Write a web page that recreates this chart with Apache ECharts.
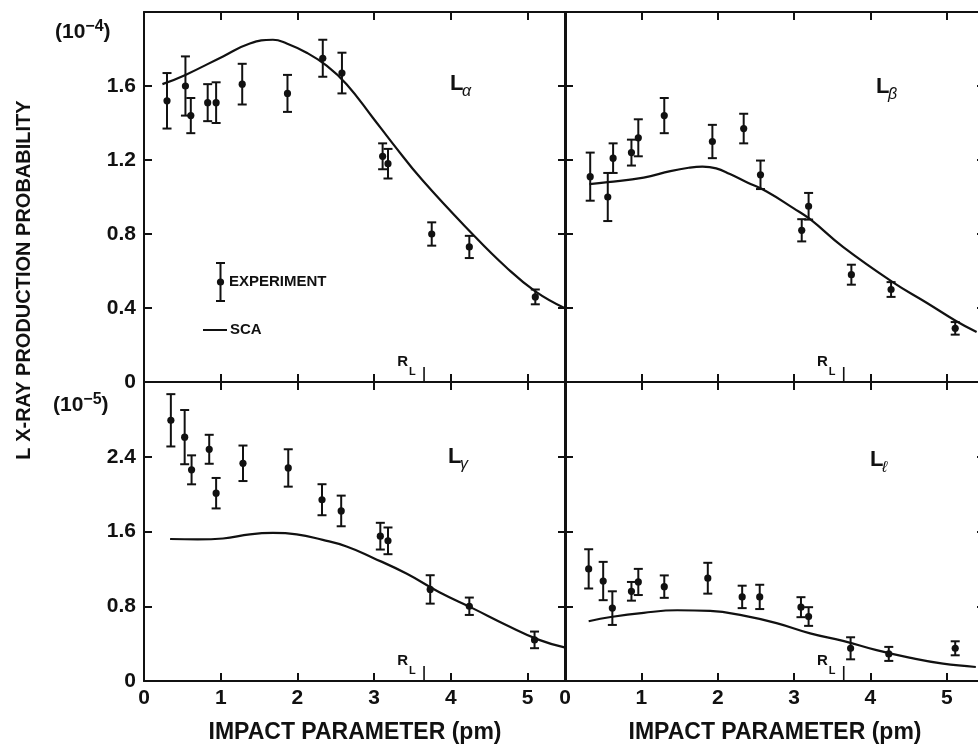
<!DOCTYPE html>
<html><head><meta charset="utf-8">
<script src="https://cdn.jsdelivr.net/npm/echarts@6/dist/echarts.min.js"></script>
<style>html,body{margin:0;padding:0;background:#fff}#c{width:978px;height:747px}</style>
</head><body><div id="c"></div>
<script>
// ---------- data (impact parameter in pm; probabilities in 1e-4 (top) / 1e-5 (bottom)) ----------
const rL = 3.65;

const impactLa = [0.30, 0.54, 0.61, 0.83, 0.94, 1.28, 1.87, 2.33, 2.58, 3.11, 3.18, 3.75, 4.24, 5.10];
const probLa   = [1.52, 1.60, 1.44, 1.51, 1.51, 1.61, 1.56, 1.75, 1.67, 1.22, 1.18, 0.80, 0.73, 0.46];
const errLa    = [0.15, 0.16, 0.095, 0.10, 0.11, 0.11, 0.10, 0.10, 0.11, 0.07, 0.08, 0.063, 0.06, 0.04];
const scaXLa   = [0.24, 0.54, 1.03, 1.38, 1.68, 1.86, 2.12, 2.38, 2.64, 2.98, 3.24, 3.63, 4.28, 4.72, 5.10, 5.48];
const scaLa    = [1.61, 1.66, 1.76, 1.83, 1.85, 1.83, 1.78, 1.71, 1.61, 1.43, 1.29, 1.09, 0.80, 0.62, 0.49, 0.40];

const impactLb = [0.33, 0.56, 0.63, 0.87, 0.96, 1.30, 1.93, 2.34, 2.56, 3.10, 3.19, 3.75, 4.27, 5.11];
const probLb   = [1.11, 1.00, 1.21, 1.24, 1.32, 1.44, 1.30, 1.37, 1.12, 0.82, 0.95, 0.58, 0.50, 0.29];
const errLb    = [0.13, 0.13, 0.08, 0.07, 0.10, 0.095, 0.09, 0.08, 0.077, 0.06, 0.072, 0.054, 0.04, 0.034];
const scaXLb   = [0.32, 0.56, 1.03, 1.38, 1.62, 1.80, 1.98, 2.16, 2.38, 2.64, 2.99, 3.21, 3.64, 4.29, 4.73, 5.12, 5.39];
const scaLb    = [1.07, 1.08, 1.105, 1.14, 1.158, 1.164, 1.155, 1.124, 1.08, 1.03, 0.94, 0.88, 0.73, 0.54, 0.43, 0.33, 0.27];

const impactLg = [0.35, 0.53, 0.62, 0.85, 0.94, 1.29, 1.88, 2.32, 2.57, 3.08, 3.18, 3.73, 4.24, 5.09];
const probLg   = [2.79, 2.61, 2.26, 2.48, 2.01, 2.33, 2.28, 1.94, 1.82, 1.55, 1.50, 0.98, 0.80, 0.44];
const errLg    = [0.28, 0.29, 0.155, 0.155, 0.163, 0.19, 0.20, 0.166, 0.164, 0.143, 0.143, 0.152, 0.093, 0.089];
const scaXLg   = [0.34, 0.70, 1.03, 1.38, 1.68, 1.99, 2.33, 2.64, 2.98, 3.42, 3.85, 4.28, 4.72, 5.15, 5.48];
const scaLg    = [1.52, 1.515, 1.525, 1.57, 1.585, 1.57, 1.51, 1.44, 1.32, 1.15, 0.95, 0.78, 0.60, 0.44, 0.36];

const impactLl = [0.31, 0.50, 0.62, 0.87, 0.96, 1.30, 1.87, 2.32, 2.55, 3.09, 3.19, 3.74, 4.24, 5.11];
const probLl   = [1.20, 1.07, 0.78, 0.96, 1.06, 1.01, 1.10, 0.90, 0.90, 0.79, 0.69, 0.35, 0.29, 0.35];
const errLl    = [0.21, 0.205, 0.18, 0.10, 0.14, 0.12, 0.165, 0.12, 0.13, 0.107, 0.10, 0.118, 0.075, 0.075];
const scaXLl   = [0.31, 0.60, 1.03, 1.47, 1.90, 2.34, 2.77, 3.21, 3.64, 4.08, 4.51, 4.95, 5.38];
const scaLl    = [0.64, 0.685, 0.73, 0.757, 0.75, 0.70, 0.62, 0.51, 0.43, 0.33, 0.25, 0.185, 0.15];

const xTicks = [0, 1, 2, 3, 4, 5];
const yTicksTop = [0, 0.4, 0.8, 1.2, 1.6];
const yTicksBottom = [0, 0.8, 1.6, 2.4];
const xTitle = 'IMPACT PARAMETER (pm)';
const yTitle = 'L X-RAY PRODUCTION PROBABILITY';

// ---------- build ----------
const FONT = '"Liberation Sans", Arial, Helvetica, sans-serif';
const INK = '#111';

const panels = [
  {impact: impactLa, prob: probLa, err: errLa, scaX: scaXLa, sca: scaLa, yMax: 2.0, yInt: 0.4, yTicks: yTicksTop, leftLabels: true, bottomLabels: false},
  {impact: impactLb, prob: probLb, err: errLb, scaX: scaXLb, sca: scaLb, yMax: 2.0, yInt: 0.4, yTicks: yTicksTop, leftLabels: false, bottomLabels: false},
  {impact: impactLg, prob: probLg, err: errLg, scaX: scaXLg, sca: scaLg, yMax: 3.2, yInt: 0.8, yTicks: yTicksBottom, leftLabels: true, bottomLabels: true},
  {impact: impactLl, prob: probLl, err: errLl, scaX: scaXLl, sca: scaLl, yMax: 3.2, yInt: 0.8, yTicks: yTicksBottom, leftLabels: false, bottomLabels: true}
];
const grids = [
  {left: 144, top: 12, width: 422, height: 370},
  {left: 565, top: 12, width: 420, height: 370},
  {left: 144, top: 382, width: 422, height: 299},
  {left: 565, top: 382, width: 420, height: 299}
].map(g => Object.assign({outerBoundsMode: 'none', containLabel: false}, g));

const lineSt = {color: INK, width: 2};
const tickSt = {show: true, inside: true, length: 8, lineStyle: {color: INK, width: 2}};
const labelFont = {fontFamily: FONT, fontWeight: 'bold', fontSize: 21, color: INK};

const xAxes = [], yAxes = [], series = [];
panels.forEach((p, i) => {
  ['bottom', 'top'].forEach(pos => {
    xAxes.push({
      type: 'value', gridIndex: i, position: pos, min: 0, max: 5.5, interval: 1,
      axisLine: {show: true, onZero: false, lineStyle: lineSt},
      axisTick: tickSt, splitLine: {show: false},
      axisLabel: Object.assign({show: pos === 'bottom' && p.bottomLabels, margin: 7,
        formatter: v => xTicks.includes(v) ? String(v) : ''}, labelFont),
      name: (pos === 'bottom' && p.bottomLabels) ? xTitle : '',
      nameLocation: 'middle', nameGap: 40,
      nameTextStyle: {fontFamily: FONT, fontWeight: 'bold', fontSize: 23, color: INK}
    });
  });
  ['left', 'right'].forEach(pos => {
    yAxes.push({
      type: 'value', gridIndex: i, position: pos, min: 0, max: p.yMax, interval: p.yInt,
      axisLine: {show: true, onZero: false, lineStyle: lineSt},
      axisTick: tickSt, splitLine: {show: false},
      axisLabel: Object.assign({show: pos === 'left' && p.leftLabels, margin: 8,
        formatter: v => {
          const t = p.yTicks.find(k => Math.abs(k - v) < 1e-6);
          if (t === undefined) return '';
          return t === 0 ? '0' : t.toFixed(1);
        }}, labelFont)
    });
  });
  series.push({
    type: 'line', xAxisIndex: 2 * i, yAxisIndex: 2 * i, smooth: 0.45,
    showSymbol: false, symbol: 'none', silent: true,
    lineStyle: {color: INK, width: 2.2},
    data: p.scaX.map((x, k) => [x, p.sca[k]]), z: 3
  });
  series.push({
    type: 'custom', xAxisIndex: 2 * i, yAxisIndex: 2 * i, silent: true, z: 4,
    dimensions: ['x', 'y', 'e'], encode: {x: 0, y: 1},
    data: p.impact.map((x, k) => [x, p.prob[k], p.err[k]]),
    renderItem: (params, api) => {
      const x = api.value(0), y = api.value(1), e = api.value(2);
      const c = api.coord([x, y]), t = api.coord([x, y + e]), b = api.coord([x, y - e]);
      const w = 4.5, st = {stroke: INK, lineWidth: 2};
      return {type: 'group', children: [
        {type: 'line', shape: {x1: c[0], y1: t[1], x2: c[0], y2: b[1]}, style: st},
        {type: 'line', shape: {x1: c[0] - w, y1: t[1], x2: c[0] + w, y2: t[1]}, style: st},
        {type: 'line', shape: {x1: c[0] - w, y1: b[1], x2: c[0] + w, y2: b[1]}, style: st},
        {type: 'circle', shape: {cx: c[0], cy: c[1], r: 3.6}, style: {fill: INK}}
      ]};
    }
  });
  series.push({
    type: 'custom', xAxisIndex: 2 * i, yAxisIndex: 2 * i, silent: true, z: 4,
    dimensions: ['x'], encode: {x: 0},
    data: [[rL]],
    renderItem: (params, api) => {
      const c = api.coord([api.value(0), 0]);
      return {type: 'group', children: [
        {type: 'line', shape: {x1: c[0], y1: c[1], x2: c[0], y2: c[1] - 15}, style: {stroke: INK, lineWidth: 1.6}},
        {type: 'text', style: {text: 'R', x: c[0] - 16, y: c[1] - 20, fill: INK,
          font: 'bold 15px ' + FONT, align: 'right', verticalAlign: 'middle'}},
        {type: 'text', style: {text: 'L', x: c[0] - 15, y: c[1] - 10, fill: INK,
          font: 'bold 11px ' + FONT, align: 'left', verticalAlign: 'middle'}}
      ]};
    }
  });
});

function panelLabel(x, y, sub) {
  return [
    {type: 'text', x: x, y: y, style: {text: 'L', fill: INK, font: 'bold 22px ' + FONT, textAlign: 'left', textVerticalAlign: 'middle', align: 'left', verticalAlign: 'middle'}},
    {type: 'text', x: x + 12, y: y + 8, style: {text: sub, fill: INK, font: 'italic 16px ' + FONT, textAlign: 'left', textVerticalAlign: 'middle', align: 'left', verticalAlign: 'middle'}}
  ];
}
function expLabel(x, y, e) {
  return {type: 'text', x: x, y: y, style: {
    text: '{a|(10}{b|' + e + '}{a|)}', fill: INK, textAlign: 'left', textVerticalAlign: 'middle', align: 'left', verticalAlign: 'middle',
    rich: {a: {fontFamily: FONT, fontWeight: 'bold', fontSize: 21, color: INK, lineHeight: 26},
           b: {fontFamily: FONT, fontWeight: 'bold', fontSize: 16, color: INK, verticalAlign: 'top', lineHeight: 16}}}};
}

const graphic = [
  {type: 'text', x: 24, y: 280, rotation: Math.PI / 2, style: {text: yTitle, fill: INK,
    font: 'bold 20px ' + FONT, textAlign: 'center', textVerticalAlign: 'middle', align: 'center', verticalAlign: 'middle'}},
  expLabel(55, 32, '\u22124'),
  expLabel(53, 405, '\u22125'),
  // legend
  {type: 'line', shape: {x1: 220.5, y1: 263, x2: 220.5, y2: 301}, style: {stroke: INK, lineWidth: 2}},
  {type: 'line', shape: {x1: 216, y1: 263, x2: 225, y2: 263}, style: {stroke: INK, lineWidth: 2}},
  {type: 'line', shape: {x1: 216, y1: 301, x2: 225, y2: 301}, style: {stroke: INK, lineWidth: 2}},
  {type: 'circle', shape: {cx: 220.5, cy: 282, r: 3.6}, style: {fill: INK}},
  {type: 'text', x: 229, y: 282, style: {text: 'EXPERIMENT', fill: INK, font: 'bold 15px ' + FONT, textAlign: 'left', textVerticalAlign: 'middle', align: 'left', verticalAlign: 'middle'}},
  {type: 'line', shape: {x1: 203, y1: 330, x2: 227, y2: 330}, style: {stroke: INK, lineWidth: 2}},
  {type: 'text', x: 230, y: 330, style: {text: 'SCA', fill: INK, font: 'bold 15px ' + FONT, textAlign: 'left', textVerticalAlign: 'middle', align: 'left', verticalAlign: 'middle'}}
].concat(panelLabel(450, 84, '\u03b1'), panelLabel(876, 87, '\u03b2'), panelLabel(448, 457, '\u03b3'), panelLabel(870, 460, '\u2113'));

const chart = echarts.init(document.getElementById('c'), null, {renderer: 'canvas'});
chart.setOption({
  animation: false,
  backgroundColor: '#fff',
  grid: grids,
  xAxis: xAxes,
  yAxis: yAxes,
  series: series,
  graphic: graphic
});
</script>
</body></html>
